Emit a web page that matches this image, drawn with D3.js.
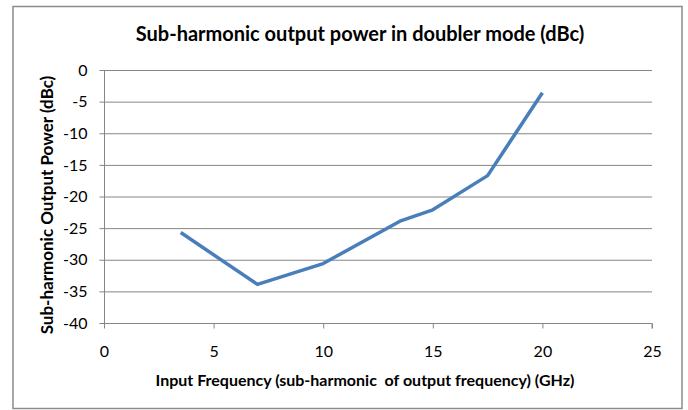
<!DOCTYPE html>
<html>
<head>
<meta charset="utf-8">
<script src="https://cdn.jsdelivr.net/npm/d3@7"></script>
<style>
	body { margin: 0; background: #fff; }
	text { font-family: Lato, "Open Sans", sans-serif; fill: #000; }
</style>
</head>
<body>
<div id="graph"></div>
<script>
var width = 688;
var height = 410;

// values
var freq = [3.5, 7, 10, 13.5, 15, 17.5, 20];
var power = [-25.7, -33.9, -30.6, -23.9, -22.1, -16.7, -3.6];
var xTicks = [0, 5, 10, 15, 20, 25];
var yTicks = [0, -5, -10, -15, -20, -25, -30, -35, -40];

var xScale = d3.scaleLinear().domain([0, 25]).range([104, 652]);
var yScale = d3.scaleLinear().domain([-40, 0]).range([323, 70]);

var chart = d3.select("#graph")
	.append("svg")
	.attr("width", width)
	.attr("height", height);

// outer frame
chart.append("rect")
	.attr("x", 13)
	.attr("y", 6.5)
	.attr("width", 669)
	.attr("height", 402)
	.attr("fill", "none")
	.attr("stroke", "#8c8c8c")
	.attr("stroke-width", 1.5);

// gridlines
chart.append("g")
	.selectAll("line")
	.data(yTicks.filter(function (d) { return d != -40; }))
	.enter()
	.append("line")
	.attr("x1", xScale(0))
	.attr("x2", xScale(25))
	.attr("y1", function (d) { return yScale(d) + 0.5; })
	.attr("y2", function (d) { return yScale(d) + 0.5; })
	.attr("stroke", "#868686")
	.attr("stroke-width", 1);

// plain hyphen for negatives, like the original
var fmt = function (d) { return String(d); };

var xAxis = d3.axisBottom(xScale).tickValues(xTicks).tickSize(5).tickPadding(17).tickFormat(fmt);
var yAxis = d3.axisLeft(yScale).tickValues(yTicks).tickSize(5).tickPadding(12).tickFormat(fmt);

var gx = chart.append("g")
	.attr("transform", "translate(0," + (yScale(-40) + 0.5) + ")")
	.call(xAxis);

var gy = chart.append("g")
	.attr("transform", "translate(" + (xScale(0) + 0.5) + ",0)")
	.call(yAxis);

[gx, gy].forEach(function (g) {
	g.selectAll("path, line").attr("stroke", "#868686");
	g.select(".domain").attr("d", g === gx
		? "M" + xScale(0) + ",0H" + xScale(25) + "V5"
		: "M0," + yScale(0) + "V" + yScale(-40));
	g.selectAll("text")
		.style("font-size", "16px")
		.style("font-family", "Lato, 'Open Sans', sans-serif")
		.attr("fill", "#000");
});

// the series
var line = d3.line()
	.x(function (d, i) { return xScale(freq[i]); })
	.y(function (d) { return yScale(d); });

chart.append("path")
	.datum(power)
	.attr("d", line)
	.attr("fill", "none")
	.attr("stroke", "#4a7ebb")
	.attr("stroke-width", 3.5)
	.attr("stroke-linejoin", "round");

// titles
chart.append("text")
	.attr("x", 360)
	.attr("y", 41)
	.attr("text-anchor", "middle")
	.style("font-size", "20px")
	.style("font-weight", "bold")
	.text("Sub-harmonic output power in doubler mode (dBc)");

chart.append("text")
	.attr("x", 365)
	.attr("y", 386)
	.attr("text-anchor", "middle")
	.style("font-size", "16px")
	.style("font-weight", "bold")
	.attr("xml:space", "preserve")
	.text("Input Frequency (sub-harmonic  of output frequency) (GHz)");

chart.append("text")
	.attr("transform", "translate(53,205) rotate(-90)")
	.attr("text-anchor", "middle")
	.style("font-size", "17px")
	.style("font-weight", "bold")
	.text("Sub-harmonic Output Power (dBc)");
</script>
</body>
</html>
